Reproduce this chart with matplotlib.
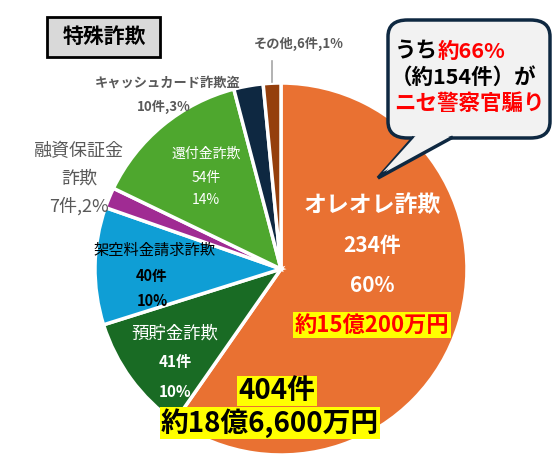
import matplotlib
matplotlib.use("Agg")
import matplotlib.pyplot as plt
from matplotlib.patches import FancyBboxPatch, Polygon
from matplotlib.text import Annotation

plt.rcParams['font.family'] = ['Noto Sans CJK JP', 'DejaVu Sans']

categories = ['オレオレ詐欺', '預貯金詐欺', '架空料金請求詐欺', '融資保証金詐欺',
              '還付金詐欺', 'キャッシュカード詐欺盗', 'その他']
counts = [234, 41, 40, 7, 54, 10, 6]
percents = [60, 10, 10, 2, 14, 3, 1]
colors = ['#E97132', '#196B24', '#0F9ED5', '#A02B93', '#4EA72E', '#0E2841', '#953F0C']

W, H = 557, 471
fig = plt.figure(figsize=(W / 100, H / 100), dpi=100)

def fx(x):
    return x / W

def fy(y):
    return 1 - y / H

cx, cy, r = 281, 269, 186
ax = fig.add_axes([fx(cx - r), fy(cy + r), 2 * r / W, 2 * r / H])
ax.pie(counts, colors=colors, startangle=90, counterclock=False,
       wedgeprops=dict(edgecolor='white', linewidth=2.5))
ax.set_aspect('equal')
ax.set_xlim(-1.0, 1.0)
ax.set_ylim(-1.0, 1.0)

def t(x, y, s, size, color='black', weight='normal', ha='center', **kw):
    return fig.text(fx(x), fy(y), s, fontsize=size, color=color, fontweight=weight,
                    ha=ha, va='center', **kw)

gray = '#595959'

# title box
fig.add_artist(plt.Rectangle((fx(47), fy(57)), 113 / W, 40 / H, transform=fig.transFigure,
                             facecolor='#D9D9D9', edgecolor='black', linewidth=2))
t(104, 36, '特殊詐欺', 15, weight='bold')

# その他
t(299, 44, f'{categories[6]},{counts[6]}件,{percents[6]}%', 9.5, color=gray, weight='bold')
fig.add_artist(plt.Line2D([fx(272), fx(272)], [fy(61), fy(82)], color='#A6A6A6', linewidth=1.2))

# キャッシュカード詐欺盗
t(168, 83, categories[5], 9.5, color=gray, weight='bold')
t(164, 107, f'{counts[5]}件,{percents[5]}%', 9.5, color=gray, weight='bold')

# 融資保証金詐欺
t(79, 151, '融資保証金', 13, color=gray)
t(79, 179, '詐欺', 13, color=gray)
t(79, 206, f'{counts[3]}件,{percents[3]}%', 13, color=gray)

# 還付金詐欺
t(206, 154, categories[4], 10, color='white')
t(206, 178, f'{counts[4]}件', 10, color='white')
t(206, 200, f'{percents[4]}%', 10, color='white')

# 架空料金請求詐欺
t(155, 250, categories[2], 11, color='black')
t(152, 276, f'{counts[2]}件', 10.5, color='black', weight='bold')
t(152, 301, f'{percents[2]}%', 10.5, color='black', weight='bold')

# 預貯金詐欺
t(175, 334, categories[1], 12.5, color='white')
t(175, 362, f'{counts[1]}件', 11, color='white', weight='bold')
t(175, 392, f'{percents[1]}%', 11, color='white', weight='bold')

# オレオレ詐欺
t(372, 205, categories[0], 16.5, color='white', weight='bold')
t(372, 245, f'{counts[0]}件', 15, color='white', weight='bold')
t(372, 285, f'{percents[0]}%', 15, color='white', weight='bold')
t(372, 325, '約15億200万円', 16, color='#FF0000', weight='bold',
  bbox=dict(boxstyle='square,pad=0.08', facecolor='#FFFF00', edgecolor='none'))

# totals
t(277, 391, '404件', 20, color='black', weight='bold',
  bbox=dict(boxstyle='square,pad=0.05', facecolor='#FFFF00', edgecolor='none'))
t(270, 423, '約18億6,600万円', 20, color='black', weight='bold',
  bbox=dict(boxstyle='square,pad=0.05', facecolor='#FFFF00', edgecolor='none'))

# callout
bx0, by0, bx1, by1 = 388, 20, 550, 138
box = FancyBboxPatch((fx(bx0), fy(by1)), (bx1 - bx0) / W, (by1 - by0) / H,
                     boxstyle='round,pad=0,rounding_size=0.035',
                     transform=fig.transFigure, facecolor='#F2F2F2',
                     edgecolor='#0E2841', linewidth=2.5, zorder=5)
fig.add_artist(box)
tail = Polygon([(fx(414), fy(137)), (fx(378), fy(178)), (fx(453), fy(137))],
               closed=False, transform=fig.transFigure, facecolor='#F2F2F2',
               edgecolor='#0E2841', linewidth=2.5, zorder=6)
fig.add_artist(tail)
cover = Polygon([(fx(416), fy(135.5)), (fx(383), fy(172)), (fx(451), fy(135.5))],
                closed=True, transform=fig.transFigure, facecolor='#F2F2F2',
                edgecolor='none', zorder=7)
fig.add_artist(cover)

fs = 15.5
l1 = fig.text(fx(395), fy(51), 'うち', fontsize=fs, fontweight='bold', color='black',
              ha='left', va='center', zorder=8)
ann = Annotation('約66%', xy=(1, 0.5), xycoords=l1, ha='left', va='center',
                 fontsize=fs, fontweight='bold', color='#FF0000', zorder=8,
                 annotation_clip=False)
fig.add_artist(ann)
fig.text(fx(391), fy(77), '（約154件）が', fontsize=fs, fontweight='bold', color='black',
         ha='left', va='center', zorder=8)
fig.text(fx(394), fy(103), 'ニセ警察官騙り', fontsize=fs, fontweight='bold', color='#FF0000',
         ha='left', va='center', zorder=8)

fig.savefig('out.png', dpi=100)
